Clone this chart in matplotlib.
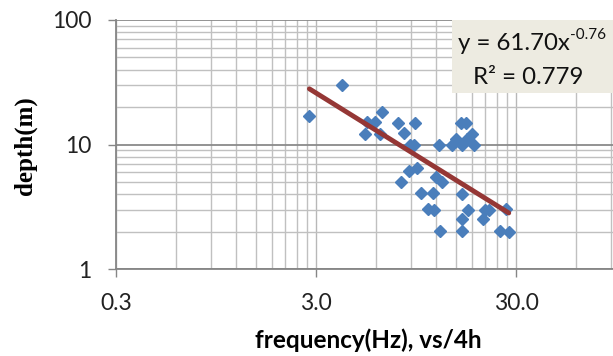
import numpy as np
import matplotlib.pyplot as plt
from matplotlib.patches import Rectangle

# frequency (Hz) and depth (m)
freq = [2.78, 4.03, 5.27, 5.38, 5.92, 6.27, 6.44, 7.68, 8.26, 9.41,
        8.85, 9.27, 12.4, 14.3, 15.1, 15.9, 16.8, 16.2, 17.1, 18.0,
        18.6, 8.75, 9.63, 7.94, 10.0, 11.6, 12.0, 12.8, 10.9, 11.7,
        12.5, 16.2, 17.2, 16.1, 16.2, 20.6, 21.0, 21.9, 26.8, 25.0, 27.6]
depth = [16.9, 30.1, 12.1, 15.2, 15.2, 12.1, 18.1, 15.0, 12.4, 15.0,
         10.0, 10.0, 10.0, 10.0, 11.0, 15.0, 15.0, 10.0, 11.0, 12.1,
         10.0, 6.07, 6.53, 5.0, 4.06, 4.06, 5.51, 5.0, 3.02, 3.0,
         2.02, 4.04, 3.0, 2.51, 2.02, 2.5, 3.0, 3.0, 3.04, 2.02, 2.0]

# trendline as drawn in the picture (ends)
trend_x = [2.78, 27.6]
trend_y = [28.0, 2.82]

# equation printed in the box
fit_a = 61.70
fit_b = -0.76
fit_r2 = 0.779

x_major = [0.3, 3.0, 30.0, 300.0]
x_labels = ['0.3', '3.0', '30.0', '']
y_major = [1, 10, 100]
y_labels = ['1', '10', '100']

plt.rcParams['font.family'] = ['Lato', 'DejaVu Sans']

W, H = 613, 356
fig = plt.figure(figsize=(W / 100, H / 100), dpi=100)
# plot area runs past the right edge of the picture, as in the reference
ax = fig.add_axes([116 / W, 87 / H, 600 / W, 249 / H])
ax.set_xscale('log')
ax.set_yscale('log')
ax.set_xlim(0.3, 300)
ax.set_ylim(1, 100)

x_minor = [d * k for d in (0.3, 3.0, 30.0) for k in range(2, 10)]
y_minor = [d * k for d in (1, 10) for k in range(2, 10)]
ax.set_xticks(x_major)
ax.set_xticklabels(x_labels)
ax.set_xticks(x_minor, minor=True)
ax.set_yticks(y_major)
ax.set_yticklabels(y_labels)
ax.set_yticks(y_minor, minor=True)
ax.xaxis.set_minor_formatter(plt.NullFormatter())
ax.yaxis.set_minor_formatter(plt.NullFormatter())

ax.grid(True, which='minor', color='#c0c0c0', lw=1.0)
ax.xaxis.grid(True, which='major', color='#b8b8b8', lw=1.0)
ax.yaxis.grid(True, which='major', color='#8a8a8a', lw=1.3)
ax.set_axisbelow(True)

for s in ('top', 'right'):
    ax.spines[s].set_visible(False)
for s in ('left', 'bottom'):
    ax.spines[s].set_color('#868686')
    ax.spines[s].set_linewidth(1.3)

ax.tick_params(which='major', direction='out', length=5.5, width=1.0,
               color='#868686', labelsize=16.5, labelcolor='#222222')
ax.tick_params(axis='x', which='major', pad=12)
ax.tick_params(axis='y', which='major', pad=12)
ax.tick_params(which='minor', length=0)

ax.plot(freq, depth, 'D', ms=6.6, color='#4a7ebb', mec='#4a7ebb', zorder=3)
ax.plot(trend_x, trend_y, color='#953735', lw=3.5,
        solid_capstyle='round', zorder=4)

# equation box
box = Rectangle((452 / W, 1 - 93 / H), 170 / W, 73 / H,
                transform=fig.transFigure, facecolor='#edebe1',
                edgecolor='none', zorder=5)
fig.add_artist(box)
eq = fig.text(458 / W, 1 - 44 / H, 'y = %.2fx' % fit_a,
              fontsize=17.3, color='#111111', va='center', ha='left', zorder=6)
fig.canvas.draw()
bb = eq.get_window_extent()
fig.text(bb.x1 / W + 0.5 / W, 1 - 35 / H, '%.2f' % fit_b, fontsize=11,
         color='#111111', va='center', ha='left', zorder=6)
fig.text(528 / W, 1 - 78 / H, 'R² = %.3f' % fit_r2, fontsize=17.3,
         color='#111111', va='center', ha='center', zorder=6)

fig.text(368 / W, 1 - 340 / H, 'frequency(Hz), vs/4h', fontsize=17.5,
         fontweight='bold', ha='center', va='center')
fig.text(25 / W, 1 - 146 / H, 'depth(m)', fontsize=18, fontweight='bold',
         family='Liberation Serif', rotation=90, ha='center', va='center')

fig.savefig('out.png', dpi=100)
